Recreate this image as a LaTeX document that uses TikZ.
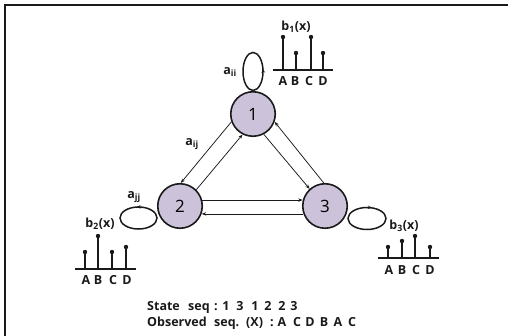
\documentclass[tikz,border=0pt]{standalone}
\usepackage{fontspec}
\setmainfont{Open Sans}
\usetikzlibrary{arrows.meta,decorations.markings}
\definecolor{lav}{HTML}{CCC2DA}
\definecolor{ink}{HTML}{1A1A1A}
\begin{document}
\begin{tikzpicture}[x=1pt,y=-1pt,
  state/.style={circle, draw=ink, line width=1.6pt, fill=lav, minimum size=44.5pt, inner sep=0pt, font=\fontsize{17}{17}\selectfont},
  edge/.style={draw=ink, line width=0.75pt, -{Stealth[length=4.5pt,width=3.4pt]}},
  loopline/.style={draw=ink, line width=1.5pt},
  lbl/.style={font=\bfseries\fontsize{12.5}{14}\selectfont, inner sep=0pt, text=ink},
  ttl/.style={font=\bfseries\fontsize{12.5}{14}\selectfont, inner sep=0pt, text=ink},
  stem/.style={draw=ink, line width=1.2pt},
  axisline/.style={draw=ink, line width=1.4pt},
  seqtext/.style={font=\bfseries\fontsize{12.5}{16}\selectfont, inner sep=0pt, anchor=base west, text=ink},
  seqch/.style={font=\bfseries\fontsize{12.5}{16}\selectfont, inner sep=0pt, anchor=base, text=ink}
]
\useasboundingbox (0,0) rectangle (508,336);
% frame
\draw[line width=1.3pt, draw=ink] (5,340) -- (5,5) -- (512,5);

% states
\node[state] (n1) at (253,114) {1};
\node[state] (n2) at (180,206) {2};
\node[state] (n3) at (325,206) {3};

% transitions
\draw[edge] (n1.200) -- (n2.88);
\draw[edge] (n2.45) -- (n1.243);
\draw[edge] (n1.298) -- (n3.132);
\draw[edge] (n3.93) -- (n1.340);
\draw[edge] (n2.15) -- (n3.165);
\draw[edge] (n3.200) -- (n2.-20);

% self loops
\draw[loopline, postaction={decorate, decoration={markings, mark=at position 0.03 with {\arrow{Stealth[length=4pt,width=3.4pt]}}}}]
  ([yshift=19.5pt]n1.north) ellipse [x radius=10pt, y radius=19pt];
\draw[loopline, postaction={decorate, decoration={markings, mark=at position 0.27 with {\arrow{Stealth[length=4pt,width=3.4pt]}}}}]
  ([xshift=-41.5pt,yshift=-12pt]n2.center) ellipse [x radius=18.5pt, y radius=11pt];
\draw[loopline, postaction={decorate, decoration={markings, mark=at position 0.2 with {\arrowreversed{Stealth[length=4pt,width=3.4pt]}}}}]
  ([xshift=42pt,yshift=-12.5pt]n3.center) ellipse [x radius=19pt, y radius=11pt];

% transition labels
\node[lbl] (aii) at (230,72) {a\textsubscript{ii}};
\node[lbl] (aij) at (192,144) {a\textsubscript{ij}};
\node[lbl] (ajj) at (134,197) {a\textsubscript{jj}};

% emission b1
\node[ttl] (b1) at (296,27) {b\textsubscript{1}(x)};
\draw[axisline] (273,70) -- (333,70);
\foreach \x/\t/\l in {283/37/A, 296/53/B, 311/37/C, 323/53/D}{
  \draw[stem] (\x,70) -- (\x,\t);
  \fill[ink] (\x,\t) circle (2.2pt);
}
\foreach \x/\l in {283/A, 295/B, 309/C, 323/D}{
  \node[lbl, anchor=base] (b1\l) at (\x,86) {\l};
}
% emission b2
\node[ttl] (b2) at (100,224) {b\textsubscript{2}(x)};
\draw[axisline] (75,269) -- (136,269);
\foreach \x/\t/\l in {85/252/A, 98/236/B, 112/252/C, 126/247/D}{
  \draw[stem] (\x,269) -- (\x,\t);
  \fill[ink] (\x,\t) circle (2.2pt);
}
\foreach \x/\l in {86/A, 98/B, 113/C, 127/D}{
  \node[lbl, anchor=base] (b2\l) at (\x,285) {\l};
}
% emission b3
\node[ttl] (b3) at (404,226) {b\textsubscript{3}(x)};
\draw[axisline] (378,258) -- (439,258);
\foreach \x/\t/\l in {388/247/A, 402/241/B, 415/236/C, 430/247/D}{
  \draw[stem] (\x,258) -- (\x,\t);
  \fill[ink] (\x,\t) circle (2.2pt);
}
\foreach \x/\l in {389/A, 402/B, 416/C, 430/D}{
  \node[lbl, anchor=base] (b3\l) at (\x,275) {\l};
}

% sequences
\node[seqtext] (st) at (147,310) {State};
\node[seqtext] (sq) at (188,310) {seq};
\node[seqch] (sc) at (216,310) {:};
\foreach \x/\c [count=\i] in {226/1, 240/3, 255/1, 268/2, 282/2, 294/3}{
  \node[seqch] (s\i) at (\x,310) {\c};
}
\node[seqtext] (ob) at (147,326) {Observed};
\node[seqtext] (oq) at (214,326) {seq.};
\node[seqtext] (ox) at (246,326) {(X)};
\node[seqch] (oc) at (272,326) {:};
\foreach \x/\c [count=\i] in {282/A, 297/C, 310/D, 324/B, 338/A, 352/C}{
  \node[seqch] (o\i) at (\x,326) {\c};
}
\end{tikzpicture}
\end{document}
